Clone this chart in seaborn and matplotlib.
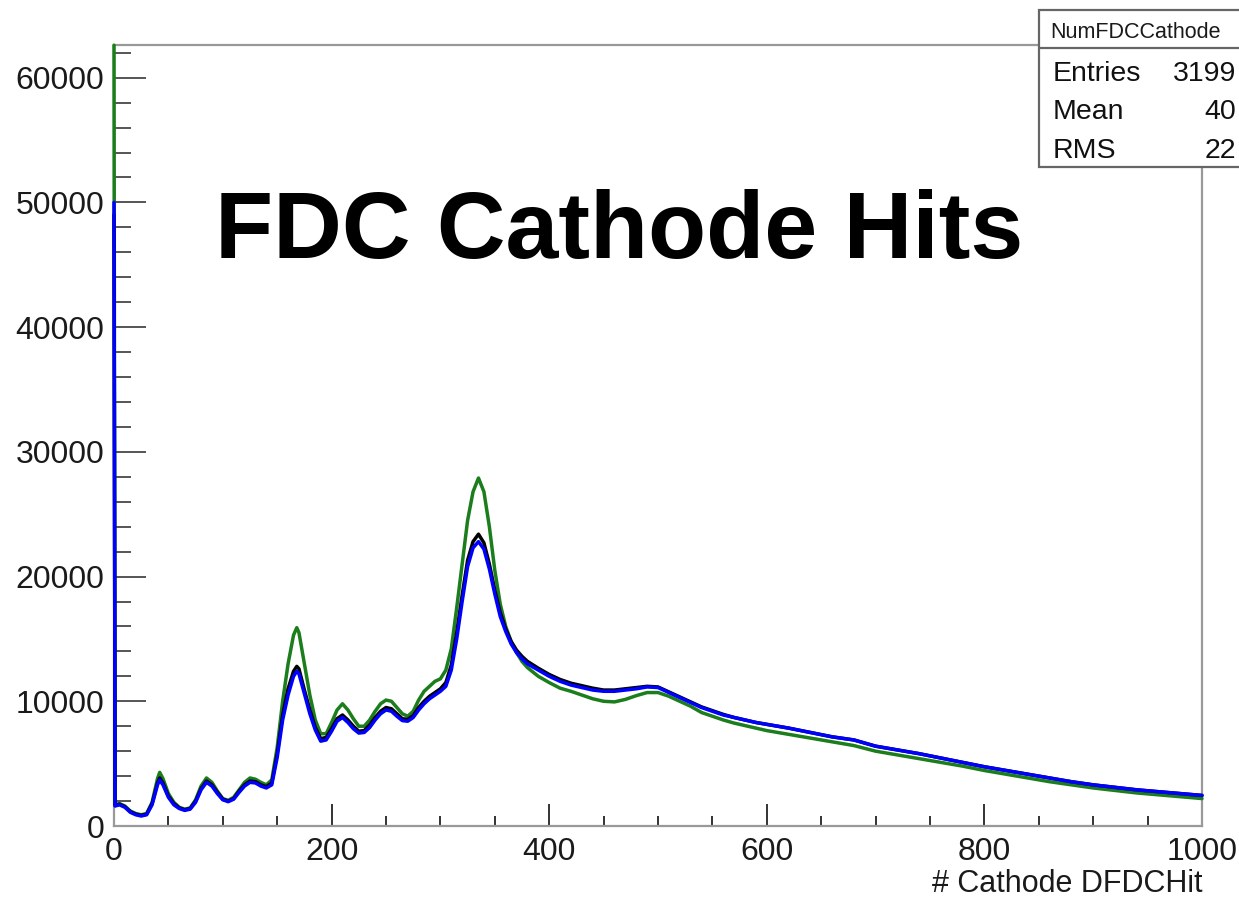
import numpy as np
import pandas as pd
import seaborn as sns
import matplotlib
matplotlib.use("Agg")
import matplotlib.pyplot as plt
from matplotlib.patches import Rectangle
from matplotlib.lines import Line2D
from matplotlib.ticker import MultipleLocator

# ---------------- data ----------------
hits = [0, 1, 5, 10, 15, 20, 25, 30, 35, 40, 42, 45, 50, 55, 60, 65, 70, 75, 80, 85,
        90, 95, 100, 105, 110, 115, 120, 125, 130, 135, 140, 145, 150, 155, 160, 165,
        168, 170, 175, 180, 185, 190, 195, 200, 205, 210, 215, 220, 225, 230, 235, 240,
        245, 250, 255, 260, 265, 270, 275, 280, 285, 290, 295, 300, 305, 310, 315, 320,
        325, 330, 335, 340, 345, 350, 355, 360, 365, 370, 375, 380, 390, 400, 410, 420,
        430, 440, 450, 460, 470, 480, 490, 500, 510, 520, 530, 540, 550, 560, 570, 580,
        590, 600, 620, 640, 660, 680, 700, 720, 740, 760, 780, 800, 820, 840, 860, 880,
        900, 920, 940, 960, 980, 1000]

green_counts = [62600, 1700, 1800, 1600, 1200, 1000, 900, 1000, 1900, 3800, 4300, 3800, 2600, 1900, 1500, 1350, 1450, 2100, 3200, 3850,
                3500, 2800, 2200, 2050, 2300, 2900, 3500, 3850, 3750, 3500, 3300, 3700, 6300, 10000, 13000, 15300,
                15900, 15500, 13000, 10500, 8500, 7400, 7400, 8300, 9300, 9800, 9300, 8600, 8000, 8000, 8500, 9200,
                9800, 10100, 10000, 9500, 9000, 8800, 9200, 10100, 10800, 11200, 11600, 11800, 12500, 14200, 17500, 21000,
                24500, 26800, 27900, 26800, 24000, 20500, 17800, 16000, 14800, 13900, 13200, 12700, 12000, 11500, 11050, 10800,
                10500, 10200, 10000, 9950, 10150, 10450, 10700, 10700, 10400, 10000, 9600, 9100, 8800, 8500, 8250, 8050,
                7850, 7650, 7350, 7050, 6750, 6450, 6000, 5700, 5400, 5100, 4800, 4450, 4150, 3850, 3550, 3300,
                3050, 2850, 2650, 2500, 2350, 2200]

black_counts = [49000, 1650, 1750, 1550, 1150, 950, 850, 950, 1800, 3450, 3850, 3450, 2400, 1800, 1450, 1300, 1400, 2000, 3000, 3600,
                3300, 2700, 2150, 2000, 2200, 2800, 3300, 3600, 3550, 3300, 3150, 3450, 5800, 8900, 11000, 12400,
                12800, 12600, 10900, 9300, 7900, 7000, 7100, 7800, 8600, 8900, 8500, 8000, 7600, 7650, 8100, 8700,
                9200, 9500, 9400, 9000, 8600, 8550, 8850, 9500, 10000, 10400, 10700, 11000, 11500, 12900, 15500, 18500,
                21300, 22800, 23400, 22700, 21000, 18900, 17100, 15800, 14800, 14100, 13600, 13200, 12650, 12150, 11750, 11450,
                11250, 11050, 10900, 10900, 11000, 11100, 11200, 11150, 10750, 10350, 9950, 9550, 9250, 8950, 8700, 8500,
                8300, 8150, 7850, 7500, 7150, 6900, 6400, 6100, 5800, 5450, 5100, 4750, 4450, 4150, 3850, 3550,
                3300, 3100, 2900, 2750, 2600, 2450]

blue_counts = [50000, 1600, 1700, 1500, 1100, 900, 800, 900, 1700, 3300, 3700, 3300, 2300, 1700, 1400, 1250, 1350, 1900, 2900, 3500,
               3200, 2600, 2100, 1950, 2150, 2700, 3200, 3500, 3450, 3200, 3050, 3300, 5500, 8500, 10500, 12000,
               12400, 12200, 10600, 9000, 7700, 6800, 6900, 7600, 8400, 8700, 8300, 7800, 7450, 7500, 7900, 8500,
               9000, 9300, 9200, 8800, 8450, 8400, 8700, 9300, 9800, 10200, 10500, 10800, 11200, 12500, 15000, 18000,
               20800, 22300, 22800, 22200, 20600, 18600, 16800, 15600, 14600, 13900, 13400, 13000, 12500, 12000, 11600, 11300,
               11100, 10900, 10800, 10800, 10900, 11000, 11150, 11100, 10700, 10300, 9900, 9500, 9200, 8900, 8700, 8500,
               8300, 8150, 7850, 7500, 7150, 6900, 6400, 6100, 5800, 5450, 5100, 4750, 4450, 4150, 3850, 3550,
               3300, 3100, 2900, 2750, 2600, 2450]

series_names = ["green", "black", "blue"]
series_colors = {"green": "#1b7d1b", "black": "#000000", "blue": "#0000ff"}

title_text = "FDC Cathode Hits"
xlabel_text = "# Cathode DFDCHit"
stats_name = "NumFDCCathode"
stats_labels = ["Entries", "Mean", "RMS"]
stats_values = ["3199", "40", "22"]

x_major = [0, 200, 400, 600, 800, 1000]
y_major = [0, 10000, 20000, 30000, 40000, 50000, 60000]

# ---------------- build table ----------------
frames = []
for name, vals in zip(series_names, [green_counts, black_counts, blue_counts]):
    frames.append(pd.DataFrame({"hits": hits, "count": vals, "series": name}))
df = pd.concat(frames, ignore_index=True)

# ---------------- figure ----------------
sns.set_theme(style="white")
plt.rcParams["font.family"] = ["Liberation Sans", "DejaVu Sans"]

W, H = 1239, 898
fig = plt.figure(figsize=(W / 100, H / 100), dpi=100)
ax = fig.add_axes([114 / W, 1 - 826 / H, 1088 / W, (826 - 45) / H])

sns.lineplot(data=df, x="hits", y="count", hue="series", hue_order=series_names,
             palette=series_colors, linewidth=2.5, legend=False, ax=ax,
             estimator=None, sort=False)
for ln in ax.get_lines():
    ln.set_clip_on(False)
    ln.set_zorder(4)

ax.set_xlim(0, 1000)
ax.set_ylim(0, 62620)
ax.set_xlabel("")
ax.set_ylabel("")

ax.set_xticks(x_major)
ax.set_yticks(y_major)
ax.set_xticklabels([str(v) for v in x_major])
ax.set_yticklabels([str(v) for v in y_major])
ax.xaxis.set_minor_locator(MultipleLocator(50))
ax.yaxis.set_minor_locator(MultipleLocator(2000))

ax.tick_params(axis="x", which="major", direction="in", length=16, width=1.4,
               color="#333333", labelsize=23, labelcolor="#1a1a1a", pad=8,
               bottom=True, top=False)
ax.tick_params(axis="x", which="minor", direction="in", length=7.5, width=1.4,
               color="#333333", bottom=True, top=False)
ax.tick_params(axis="y", which="major", direction="in", length=23, width=1.4,
               color="#555555", labelsize=23, labelcolor="#1a1a1a", pad=7,
               left=True, right=False)
ax.tick_params(axis="y", which="minor", direction="in", length=12, width=1.4,
               color="#555555", left=True, right=False)

for s in ax.spines.values():
    s.set_visible(True)
    s.set_color("#999999")
    s.set_linewidth(1.6)

# title inside the plot
fig.text(215 / W, 1 - 258 / H, title_text, fontsize=68.5, fontweight="bold",
         color="black", ha="left", va="baseline")

# x label at the right
fig.text(1202 / W, 1 - 892 / H, xlabel_text, fontsize=22, color="#1a1a1a",
         ha="right", va="baseline")

# stats box (cut by the right edge)
box = Rectangle((1039 / W, 1 - 167 / H), 260 / W, (167 - 10) / H,
                transform=fig.transFigure, facecolor="white",
                edgecolor="#666666", linewidth=1.6, zorder=10)
fig.add_artist(box)
sep = Line2D([1039 / W, 1.0], [1 - 48 / H, 1 - 48 / H], transform=fig.transFigure,
             color="#666666", linewidth=1.6, zorder=11)
fig.add_artist(sep)
fig.text(1050 / W, 1 - 38 / H, stats_name, fontsize=15.5, color="#1a1a1a",
         ha="left", va="baseline", zorder=12)
row_y = [81, 119, 158]
for lab, val, yy in zip(stats_labels, stats_values, row_y):
    fig.text(1053 / W, 1 - yy / H, lab, fontsize=20.5, color="#111111",
             ha="left", va="baseline", zorder=12)
    fig.text(1236 / W, 1 - yy / H, val, fontsize=20.5, color="#111111",
             ha="right", va="baseline", zorder=12)

fig.savefig("out.png", dpi=100, facecolor="white")
